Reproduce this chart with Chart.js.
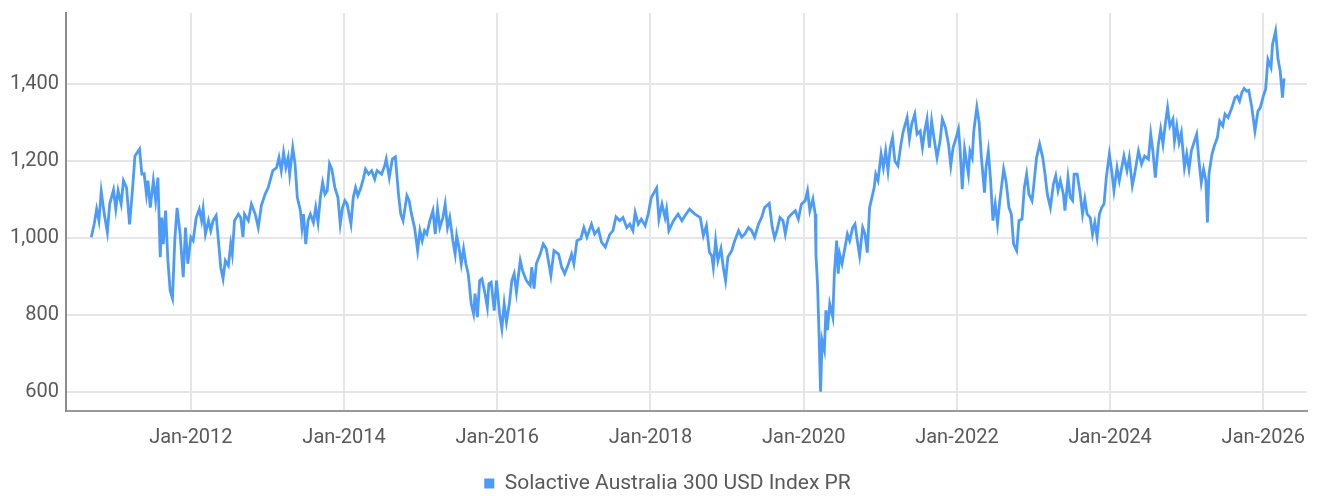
<!DOCTYPE html>
<html>
<head>
<meta charset="utf-8">
<title>Solactive Australia 300 USD Index PR</title>
<script src="https://cdn.jsdelivr.net/npm/chart.js@4.4.1/dist/chart.umd.min.js"></script>
<style>
  html, body { margin: 0; padding: 0; background: #fff; }
  #wrap { width: 1317px; height: 496px; }
</style>
</head>
<body>
<div id="wrap"><canvas id="chart" width="1317" height="496"></canvas></div>
<script>
// dates as decimal years
const years = [
  2010.70, 2010.74, 2010.77, 2010.80, 2010.83, 2010.87, 2010.91, 2010.94, 2010.99, 2011.02,
  2011.05, 2011.09, 2011.12, 2011.16, 2011.20, 2011.24, 2011.27, 2011.33, 2011.36, 2011.39,
  2011.42, 2011.44, 2011.47, 2011.51, 2011.54, 2011.57, 2011.60, 2011.62, 2011.64, 2011.67,
  2011.70, 2011.73, 2011.76, 2011.79, 2011.82, 2011.86, 2011.90, 2011.93, 2011.96, 2012.00,
  2012.03, 2012.07, 2012.11, 2012.14, 2012.16, 2012.19, 2012.23, 2012.26, 2012.29, 2012.33,
  2012.36, 2012.39, 2012.42, 2012.45, 2012.49, 2012.52, 2012.54, 2012.57, 2012.62, 2012.65,
  2012.68, 2012.70, 2012.75, 2012.79, 2012.84, 2012.88, 2012.92, 2012.97, 2013.01, 2013.07,
  2013.12, 2013.15, 2013.18, 2013.21, 2013.24, 2013.27, 2013.29, 2013.33, 2013.36, 2013.39,
  2013.43, 2013.45, 2013.47, 2013.50, 2013.53, 2013.56, 2013.60, 2013.63, 2013.66, 2013.69,
  2013.72, 2013.75, 2013.78, 2013.81, 2013.84, 2013.88, 2013.92, 2013.95, 2013.98, 2014.01,
  2014.04, 2014.09, 2014.12, 2014.15, 2014.18, 2014.22, 2014.25, 2014.28, 2014.32, 2014.36,
  2014.40, 2014.43, 2014.49, 2014.53, 2014.55, 2014.59, 2014.63, 2014.67, 2014.71, 2014.74,
  2014.77, 2014.82, 2014.85, 2014.88, 2014.92, 2014.96, 2014.99, 2015.02, 2015.05, 2015.08,
  2015.12, 2015.16, 2015.19, 2015.22, 2015.25, 2015.29, 2015.32, 2015.35, 2015.38, 2015.42,
  2015.45, 2015.47, 2015.50, 2015.53, 2015.56, 2015.59, 2015.62, 2015.66, 2015.69, 2015.71,
  2015.74, 2015.77, 2015.80, 2015.84, 2015.87, 2015.89, 2015.92, 2015.96, 2015.99, 2016.03,
  2016.06, 2016.09, 2016.12, 2016.16, 2016.19, 2016.22, 2016.25, 2016.30, 2016.33, 2016.38,
  2016.43, 2016.45, 2016.48, 2016.51, 2016.56, 2016.60, 2016.64, 2016.70, 2016.74, 2016.80,
  2016.84, 2016.88, 2016.93, 2016.97, 2017.00, 2017.04, 2017.09, 2017.13, 2017.17, 2017.23,
  2017.27, 2017.32, 2017.36, 2017.41, 2017.47, 2017.51, 2017.55, 2017.60, 2017.64, 2017.69,
  2017.73, 2017.77, 2017.80, 2017.84, 2017.88, 2017.93, 2017.97, 2018.01, 2018.08, 2018.11,
  2018.15, 2018.19, 2018.21, 2018.24, 2018.30, 2018.36, 2018.41, 2018.45, 2018.51, 2018.58,
  2018.65, 2018.69, 2018.73, 2018.77, 2018.80, 2018.82, 2018.85, 2018.88, 2018.92, 2018.95,
  2018.98, 2019.01, 2019.06, 2019.10, 2019.15, 2019.19, 2019.23, 2019.28, 2019.32, 2019.36,
  2019.41, 2019.45, 2019.49, 2019.55, 2019.59, 2019.62, 2019.65, 2019.69, 2019.73, 2019.76,
  2019.80, 2019.84, 2019.89, 2019.93, 2019.97, 2020.02, 2020.05, 2020.08, 2020.12, 2020.15,
  2020.16, 2020.18, 2020.20, 2020.22, 2020.24, 2020.27, 2020.29, 2020.31, 2020.34, 2020.38,
  2020.40, 2020.43, 2020.45, 2020.47, 2020.50, 2020.54, 2020.57, 2020.60, 2020.64, 2020.67,
  2020.70, 2020.73, 2020.77, 2020.80, 2020.83, 2020.86, 2020.89, 2020.92, 2020.94, 2020.97,
  2021.01, 2021.04, 2021.07, 2021.10, 2021.13, 2021.16, 2021.19, 2021.23, 2021.27, 2021.30,
  2021.35, 2021.38, 2021.41, 2021.45, 2021.48, 2021.52, 2021.55, 2021.58, 2021.61, 2021.64,
  2021.67, 2021.70, 2021.74, 2021.78, 2021.81, 2021.85, 2021.89, 2021.92, 2021.95, 2021.99,
  2022.02, 2022.04, 2022.07, 2022.10, 2022.15, 2022.17, 2022.20, 2022.22, 2022.26, 2022.29,
  2022.32, 2022.36, 2022.38, 2022.41, 2022.44, 2022.47, 2022.50, 2022.53, 2022.56, 2022.61,
  2022.64, 2022.68, 2022.71, 2022.74, 2022.78, 2022.81, 2022.85, 2022.88, 2022.91, 2022.94,
  2022.98, 2023.00, 2023.04, 2023.08, 2023.12, 2023.15, 2023.18, 2023.22, 2023.26, 2023.29,
  2023.32, 2023.35, 2023.39, 2023.41, 2023.45, 2023.48, 2023.51, 2023.53, 2023.57, 2023.61,
  2023.64, 2023.67, 2023.70, 2023.74, 2023.77, 2023.80, 2023.83, 2023.86, 2023.89, 2023.92,
  2023.95, 2023.99, 2024.02, 2024.05, 2024.09, 2024.12, 2024.14, 2024.18, 2024.22, 2024.25,
  2024.29, 2024.32, 2024.37, 2024.41, 2024.45, 2024.50, 2024.53, 2024.56, 2024.59, 2024.63,
  2024.66, 2024.69, 2024.72, 2024.75, 2024.78, 2024.82, 2024.84, 2024.87, 2024.90, 2024.93,
  2024.97, 2025.00, 2025.03, 2025.06, 2025.10, 2025.13, 2025.16, 2025.19, 2025.22, 2025.25,
  2025.27, 2025.29, 2025.33, 2025.36, 2025.40, 2025.43, 2025.47, 2025.50, 2025.54, 2025.59,
  2025.63, 2025.66, 2025.69, 2025.72, 2025.75, 2025.78, 2025.81, 2025.85, 2025.89, 2025.93,
  2025.96, 2026.00, 2026.03, 2026.06, 2026.10, 2026.12, 2026.16, 2026.19, 2026.22, 2026.25, 2026.27
];

const indexValues = [
  1002, 1038, 1075, 1045, 1121, 1062, 1015, 1088, 1125, 1075,
  1123, 1088, 1149, 1131, 1035, 1131, 1213, 1231, 1166, 1167,
  1114, 1149, 1079, 1149, 1097, 1157, 950, 1053, 984, 1071,
  941, 863, 843, 993, 1078, 1010, 898, 1027, 933, 1002,
  993, 1053, 1075, 1045, 1075, 1010, 1045, 1019, 1045, 1058,
  993, 924, 894, 941, 928, 984, 958, 1045, 1062, 1053,
  1002, 1062, 1045, 1088, 1062, 1027, 1084, 1114, 1131, 1175,
  1183, 1209, 1175, 1222, 1183, 1209, 1166, 1235, 1192, 1105,
  1071, 1027, 1062, 984, 1045, 1062, 1040, 1079, 1040, 1105,
  1144, 1114, 1123, 1193, 1179, 1131, 1105, 1036, 1079, 1097,
  1088, 1036, 1105, 1131, 1110, 1131, 1153, 1179, 1166, 1175,
  1153, 1175, 1166, 1188, 1205, 1157, 1205, 1211, 1114, 1062,
  1045, 1110, 1097, 1062, 1027, 967, 1019, 993, 1019, 1010,
  1045, 1071, 1010, 1075, 1027, 1053, 1088, 1027, 1053, 993,
  958, 1006, 976, 933, 972, 933, 907, 829, 803, 855,
  794, 889, 894, 855, 820, 881, 885, 811, 889, 803,
  764, 829, 781, 833, 889, 907, 859, 941, 915, 889,
  876, 924, 868, 933, 958, 984, 972, 902, 967, 958,
  924, 907, 933, 958, 933, 993, 998, 1027, 1002, 1036,
  1010, 1023, 989, 976, 1010, 1019, 1055, 1045, 1053, 1027,
  1036, 1019, 1066, 1036, 1049, 1032, 1062, 1105, 1130, 1049,
  1088, 1053, 1075, 1019, 1045, 1062, 1045, 1058, 1075, 1062,
  1053, 1006, 1032, 962, 954, 924, 993, 941, 972, 924,
  889, 950, 967, 993, 1019, 1002, 1010, 1027, 1019, 1002,
  1036, 1053, 1079, 1090, 1027, 1000, 1019, 1053, 1045, 1010,
  1053, 1062, 1071, 1049, 1088, 1097, 1123, 1071, 1101, 1062,
  958, 881, 751, 600, 734, 708, 812, 760, 829, 794,
  907, 993, 907, 958, 933, 976, 1010, 993, 1027, 1036,
  993, 954, 1027, 1010, 962, 1079, 1105, 1131, 1166, 1149,
  1218, 1183, 1226, 1175, 1235, 1261, 1200, 1188, 1244, 1278,
  1313, 1257, 1296, 1322, 1270, 1278, 1235, 1278, 1309, 1235,
  1304, 1261, 1209, 1252, 1309, 1287, 1244, 1188, 1235, 1261,
  1283, 1235, 1127, 1231, 1166, 1226, 1209, 1278, 1340, 1300,
  1209, 1118, 1183, 1226, 1149, 1045, 1088, 1036, 1097, 1179,
  1149, 1079, 1062, 984, 967, 1045, 1049, 1131, 1166, 1114,
  1097, 1131, 1209, 1244, 1209, 1166, 1114, 1079, 1140, 1162,
  1123, 1149, 1114, 1071, 1157, 1105, 1097, 1166, 1166, 1114,
  1062, 1101, 1062, 1053, 1010, 1040, 1002, 1062, 1079, 1088,
  1157, 1218, 1175, 1123, 1183, 1149, 1170, 1213, 1175, 1209,
  1136, 1166, 1226, 1192, 1213, 1205, 1270, 1222, 1157, 1244,
  1283, 1244, 1296, 1339, 1291, 1309, 1252, 1291, 1248, 1274,
  1183, 1218, 1179, 1226, 1252, 1270, 1200, 1144, 1179, 1149,
  1040, 1166, 1218, 1239, 1261, 1304, 1291, 1322, 1313, 1339,
  1365, 1369, 1356, 1378, 1389, 1382, 1384, 1339, 1278, 1330,
  1339, 1369, 1387, 1464, 1443, 1503, 1538, 1468, 1434, 1365, 1415
];

const xTickYears = [2012, 2014, 2016, 2018, 2020, 2022, 2024, 2026];
const yTickValues = [600, 800, 1000, 1200, 1400];
const seriesLabel = 'Solactive Australia 300 USD Index PR';

const textColor = '#595959';
const gridColor = '#e6e6e6';
const lineColor = '#4d9bf8';
const legendShiftX = 14;

Chart.defaults.font.family = 'Roboto, "Open Sans", sans-serif';
Chart.defaults.color = textColor;

// legend in the original sits a bit right of the canvas centre
const legendShift = {
    id: 'legendShift',
    afterLayout(chart) {
        chart.legend.left += legendShiftX;
        chart.legend.right += legendShiftX;
    }
};

new Chart(document.getElementById('chart'), {
    type: 'line',
    data: {
        datasets: [{
            label: seriesLabel,
            data: years.map((x, i) => ({ x, y: indexValues[i] })),
            borderColor: lineColor,
            backgroundColor: lineColor,
            borderWidth: 2.8,
            pointRadius: 0,
            tension: 0,
        }]
    },
    options: {
        responsive: false,
        devicePixelRatio: 1,
        animation: false,
        layout: { padding: { top: 13, right: 10, bottom: -8, left: 0 } },
        plugins: {
            tooltip: { enabled: false },
            legend: {
                position: 'bottom',
                labels: {
                    boxWidth: 10,
                    boxHeight: 10,
                    padding: 0,
                    color: textColor,
                    font: { size: 21 },
                    generateLabels: chart => Chart.defaults.plugins.legend.labels.generateLabels(chart)
                        .map(l => ({ ...l, lineWidth: 0 }))
                }
            }
        },
        scales: {
            x: {
                type: 'linear',
                min: 2010.37,
                max: 2026.57,
                afterBuildTicks: s => { s.ticks = xTickYears.map(v => ({ value: v })); },
                afterFit: s => { s.height = 62; s.paddingLeft = 0; s.paddingRight = 0; },
                ticks: {
                    callback: v => 'Jan-' + v,
                    font: { size: 20 },
                    padding: 15,
                    maxRotation: 0,
                    autoSkip: false,
                },
                grid: { color: gridColor, lineWidth: 2, drawTicks: false },
                border: { color: '#999999', width: 2 }
            },
            y: {
                min: 550,
                max: 1585,
                afterBuildTicks: s => { s.ticks = yTickValues.map(v => ({ value: v })); },
                afterFit: s => { s.width = 66; s.paddingTop = 0; s.paddingBottom = 0; },
                ticks: {
                    callback: v => v.toLocaleString('en-US'),
                    font: { size: 20 },
                    padding: 7,
                },
                grid: { color: gridColor, lineWidth: 2, drawTicks: false },
                border: { color: '#8c8c8c', width: 2 }
            }
        }
    },
    plugins: [legendShift]
});
</script>
</body>
</html>
